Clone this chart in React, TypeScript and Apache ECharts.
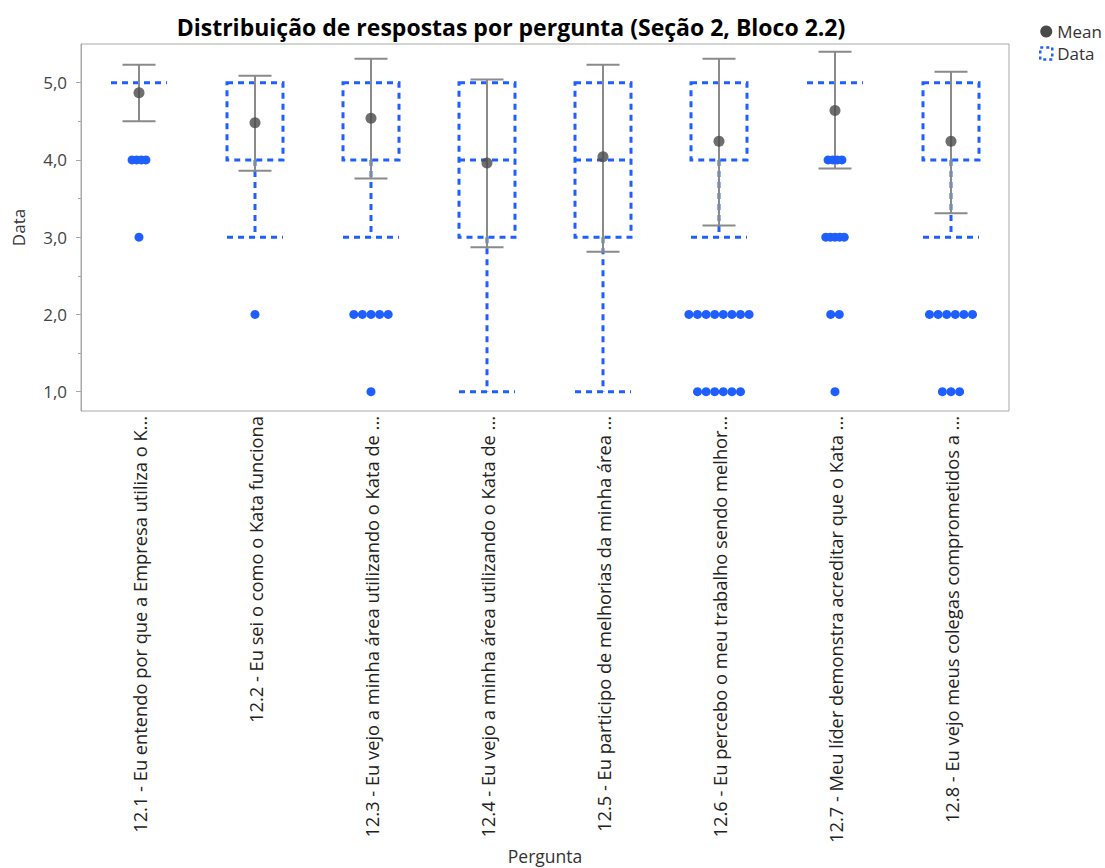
import React, { useEffect, useRef } from 'react';
import * as echarts from 'echarts';

const categories = [
  '12.1 - Eu entendo por que a Empresa utiliza o K...',
  '12.2 - Eu sei o como o Kata funciona',
  '12.3 - Eu vejo a minha área utilizando o Kata de ...',
  '12.4 - Eu vejo a minha área utilizando o Kata de ...',
  '12.5 - Eu participo de melhorias da minha área ...',
  '12.6 - Eu percebo o meu trabalho sendo melhor...',
  '12.7 - Meu líder demonstra acreditar que o Kata ...',
  '12.8 - Eu vejo meus colegas comprometidos a ...',
];

// Quantile box (dashed): lower whisker, Q1, median, Q3, upper whisker
const boxLow = [5, 3, 3, 1, 1, 3, 5, 3];
const boxQ1 = [5, 4, 4, 3, 3, 4, 5, 4];
const boxMedian = [5, 5, 5, 4, 4, 5, 5, 5];
const boxQ3 = [5, 5, 5, 5, 5, 5, 5, 5];
const boxHigh = [5, 5, 5, 5, 5, 5, 5, 5];

// Mean with error bars
const meanValues = [4.87, 4.48, 4.54, 3.96, 4.04, 4.24, 4.64, 4.24];
const errLow = [4.5, 3.86, 3.76, 2.87, 2.81, 3.15, 3.89, 3.31];
const errHigh = [5.23, 5.09, 5.31, 5.04, 5.23, 5.31, 5.4, 5.14];

// Outlier dots: question index, response value, number of dots, packed tightly
const dotQuestion = [0, 0, 1, 2, 2, 5, 5, 6, 6, 6, 6, 7, 7];
const dotValue = [4, 3, 2, 2, 1, 2, 1, 4, 3, 2, 1, 2, 1];
const dotCount = [4, 1, 1, 5, 1, 8, 6, 4, 5, 2, 1, 6, 3];
const dotTight = [1, 0, 0, 0, 0, 0, 0, 1, 1, 0, 0, 0, 0];

const yTicks = [1, 2, 3, 4, 5];
const yMinorTicks = [1.5, 2.5, 3.5, 4.5];

const FONT = "'Open Sans', 'Noto Sans', sans-serif";
const BLUE = '#1f5fff';
const GRAY = '#8a8a8a';
const MEAN_COLOR = '#4a4a4a';

export default function App() {
  const ref = useRef<HTMLDivElement>(null);

  useEffect(() => {
    document.body.style.margin = '0';
    if (!ref.current) return;
    const chart = echarts.init(ref.current, null, { renderer: 'svg' });

    const boxData = categories.map((_, i) => [i, boxLow[i], boxQ1[i], boxMedian[i], boxQ3[i], boxHigh[i]]);
    const errData = categories.map((_, i) => [i, errLow[i], errHigh[i]]);
    const meanData = categories.map((_, i) => [i, meanValues[i]]);

    const dots: any[] = [];
    dotQuestion.forEach((q, r) => {
      const n = dotCount[r];
      const gap = dotTight[r] ? 4.6 : 8.6;
      for (let k = 0; k < n; k++) {
        const dx = (k - (n - 1) / 2) * gap;
        dots.push({ value: [q, dotValue[r]], symbolOffset: [dx, 0] });
      }
    });

    const dashStyle = { stroke: BLUE, lineWidth: 3, lineDash: [6, 5], fill: 'none' };

    const option: any = {
      animation: false,
      backgroundColor: '#ffffff',
      title: {
        text: 'Distribuição de respostas por pergunta (Seção 2, Bloco 2.2)',
        left: 506,
        textAlign: 'center',
        top: 10,
        textStyle: { fontFamily: FONT, fontWeight: 'bold', fontSize: 23, color: '#000' },
      },
      legend: {
        orient: 'vertical',
        left: 1034,
        top: 18,
        itemWidth: 12,
        itemHeight: 12,
        itemGap: 5,
        textStyle: { fontFamily: FONT, fontSize: 17, color: '#333' },
        data: [
          { name: 'Mean', icon: 'circle', itemStyle: { color: MEAN_COLOR } },
          {
            name: 'Data',
            icon: 'rect',
            itemStyle: { color: 'rgba(0,0,0,0)', borderColor: BLUE, borderWidth: 2.5, borderType: [3, 3] },
          },
        ],
      },
      grid: {
        left: 81,
        right: 96,
        top: 44,
        bottom: 457,
        show: true,
        borderColor: '#a9a9a9',
        borderWidth: 1,
        backgroundColor: 'rgba(0,0,0,0)',
      },
      xAxis: {
        type: 'category',
        data: categories,
        name: 'Pergunta',
        nameLocation: 'middle',
        nameGap: 434,
        nameTextStyle: { fontFamily: FONT, fontSize: 17.5, color: '#333' },
        axisLine: { show: false },
        axisTick: { show: false },
        splitLine: { show: false },
        axisLabel: {
          interval: 0,
          rotate: 90,
          margin: 5,
          fontFamily: FONT,
          fontSize: 18.3,
          color: '#222',
        },
      },
      yAxis: [
        {
          type: 'value',
          min: 0.75,
          max: 5.5,
          name: 'Data',
          nameLocation: 'middle',
          nameGap: 54,
          nameTextStyle: { fontFamily: FONT, fontSize: 17, color: '#333' },
          axisLine: { show: true, lineStyle: { color: '#a9a9a9' } },
          axisTick: { show: true, length: 5, customValues: yTicks, lineStyle: { color: '#a9a9a9' } },
          axisLabel: {
            customValues: yTicks,
            margin: 14,
            fontFamily: FONT,
            fontSize: 17,
            color: '#444',
            formatter: (v: number) => v.toFixed(1).replace('.', ','),
          },
          splitLine: { show: false },
        },
        {
          type: 'value',
          min: 0.75,
          max: 5.5,
          position: 'left',
          axisLine: { show: false },
          axisTick: { show: true, length: 3, customValues: yMinorTicks, lineStyle: { color: '#a9a9a9' } },
          axisLabel: { show: false },
          splitLine: { show: false },
        },
      ],
      series: [
        {
          name: 'Data',
          type: 'custom',
          data: boxData,
          encode: { x: 0, y: [1, 2, 3, 4, 5] },
          z: 2,
          silent: true,
          renderItem: (params: any, api: any) => {
            const x = api.value(0);
            const low = api.value(1);
            const q1 = api.value(2);
            const med = api.value(3);
            const q3 = api.value(4);
            const high = api.value(5);
            const pLow = api.coord([x, low]);
            const pQ1 = api.coord([x, q1]);
            const pMed = api.coord([x, med]);
            const pQ3 = api.coord([x, q3]);
            const pHigh = api.coord([x, high]);
            const cx = pQ1[0];
            const hw = 28;
            const children: any[] = [];
            const hline = (y: number) => ({
              type: 'line',
              shape: { x1: cx - hw, y1: y, x2: cx + hw, y2: y },
              style: dashStyle,
            });
            if (q3 > q1) {
              children.push({
                type: 'rect',
                shape: { x: cx - hw, y: pQ3[1], width: hw * 2, height: pQ1[1] - pQ3[1] },
                style: dashStyle,
              });
            } else {
              children.push(hline(pQ1[1]));
            }
            if (med > q1 && med < q3) children.push(hline(pMed[1]));
            if (low < q1) {
              children.push({ type: 'line', shape: { x1: cx, y1: pQ1[1], x2: cx, y2: pLow[1] }, style: dashStyle });
              children.push(hline(pLow[1]));
            }
            if (high > q3) {
              children.push({ type: 'line', shape: { x1: cx, y1: pQ3[1], x2: cx, y2: pHigh[1] }, style: dashStyle });
              children.push(hline(pHigh[1]));
            }
            return { type: 'group', children };
          },
        },
        {
          name: 'Mean',
          type: 'custom',
          data: errData,
          encode: { x: 0, y: [1, 2] },
          z: 3,
          silent: true,
          renderItem: (params: any, api: any) => {
            const x = api.value(0);
            const lo = api.coord([x, api.value(1)]);
            const hi = api.coord([x, api.value(2)]);
            const half = 16.5;
            const style = { stroke: GRAY, lineWidth: 2 };
            return {
              type: 'group',
              children: [
                { type: 'line', shape: { x1: hi[0], y1: hi[1], x2: lo[0], y2: lo[1] }, style },
                { type: 'line', shape: { x1: hi[0] - half, y1: hi[1], x2: hi[0] + half, y2: hi[1] }, style },
                { type: 'line', shape: { x1: lo[0] - half, y1: lo[1], x2: lo[0] + half, y2: lo[1] }, style },
              ],
            };
          },
        },
        {
          name: 'Mean',
          type: 'scatter',
          data: meanData,
          symbol: 'circle',
          symbolSize: 11,
          z: 4,
          silent: true,
          itemStyle: { color: MEAN_COLOR },
        },
        {
          name: 'Data',
          type: 'scatter',
          data: dots,
          symbol: 'circle',
          symbolSize: 9,
          z: 5,
          silent: true,
          itemStyle: { color: BLUE, opacity: 1 },
        },
      ],
    };

    chart.setOption(option);
    return () => chart.dispose();
  }, []);

  return <div ref={ref} style={{ width: 1105, height: 868 }} />;
}
